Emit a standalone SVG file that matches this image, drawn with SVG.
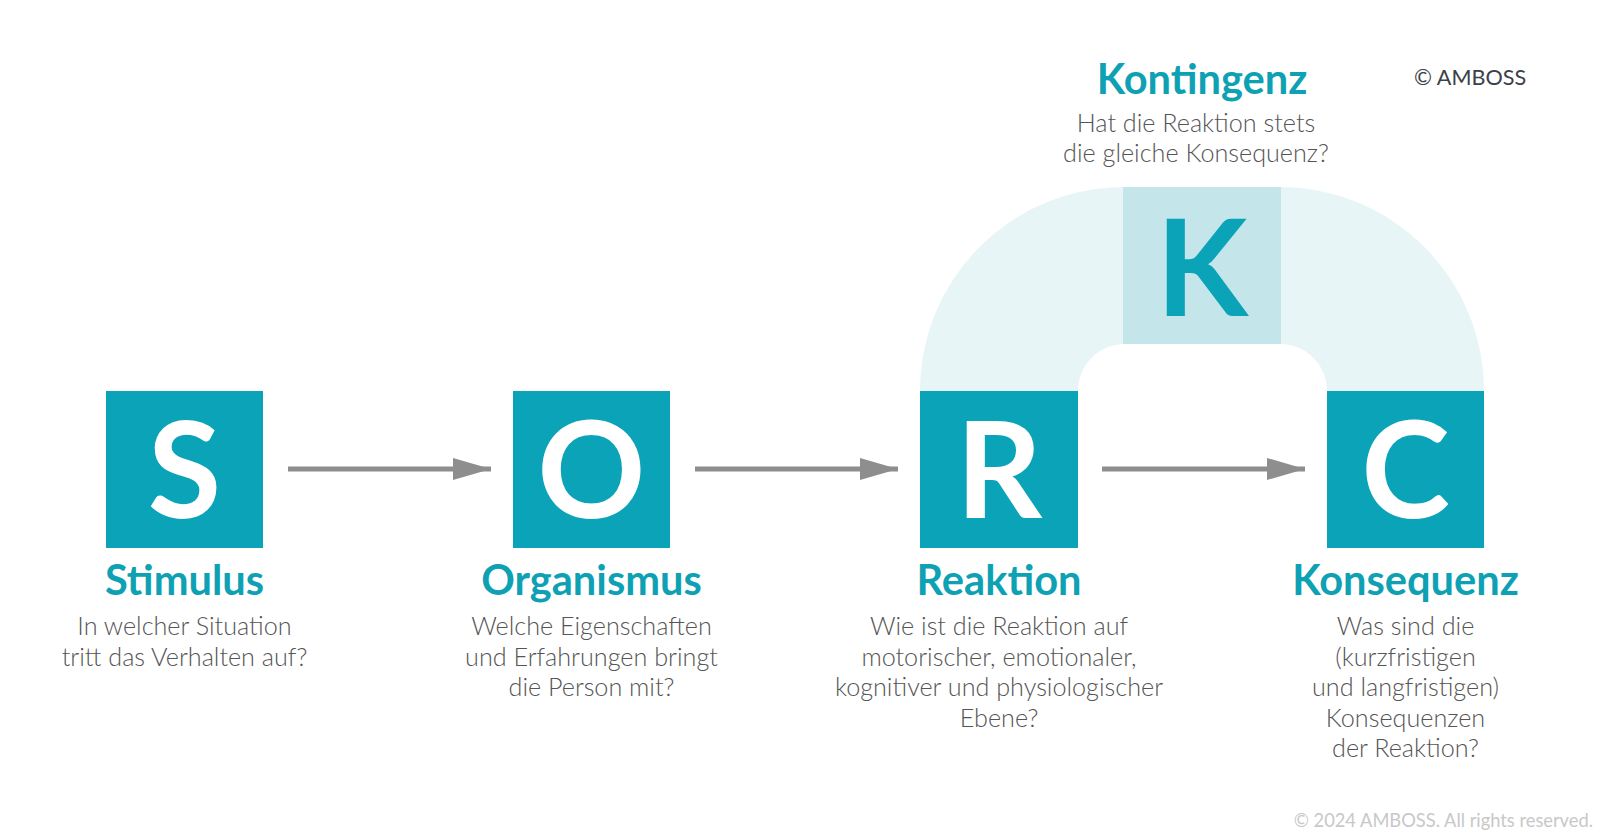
<svg xmlns="http://www.w3.org/2000/svg" width="1600" height="833" viewBox="0 0 1600 833">
<style>
.box{fill:#0aa3b8}
.letter{font-family:Lato,"Noto Sans",sans-serif;font-weight:700;font-size:134px;fill:#fff;text-anchor:middle}
.title{font-family:Lato,"Noto Sans",sans-serif;font-weight:700;font-size:41.6px;fill:#0ea1b4;text-anchor:middle}
.body{font-family:Lato,"Noto Sans",sans-serif;font-weight:300;font-size:25.2px;fill:#555;text-anchor:middle}
.conn{stroke:#8e8e8e;stroke-width:5;fill:none}
.copy{font-family:Lato,"Noto Sans",sans-serif;font-weight:400;font-size:21.6px;fill:#3a4149}
.foot{font-family:Lato,"Noto Sans",sans-serif;font-weight:400;font-size:18.3px;fill:#c8c8c8;text-anchor:end}
</style>
<defs>
<marker id="ah" markerUnits="userSpaceOnUse" markerWidth="40" markerHeight="22" refX="38" refY="11" orient="auto">
<path d="M0,0 L38,11 L0,22 Z" fill="#8e8e8e"/>
</marker>
</defs>
<rect width="1600" height="833" fill="#fff"/>

<g id="kontingenz">
<path d="M920,391 A204,204 0 0 1 1124,187 L1280,187 A204,204 0 0 1 1484,391 Z" fill="#e8f5f7"/>
<rect x="1123" y="187" width="158" height="157" fill="#c4e6ea"/>
<path d="M1078,391 A47,47 0 0 1 1125,344 L1280,344 A47,47 0 0 1 1327,391 Z" fill="#fff"/>
<text class="letter" x="1202" y="316" style="fill:#0aa3b8">K</text>
<text class="title" x="1202" y="94">Kontingenz</text>
<text class="body" x="1196" y="132">Hat die Reaktion stets</text>
<text class="body" x="1196" y="162">die gleiche Konsequenz?</text>
</g>

<g id="connectors">
<line class="conn" x1="288" y1="469" x2="491" y2="469" marker-end="url(#ah)"/>
<line class="conn" x1="695" y1="469" x2="898" y2="469" marker-end="url(#ah)"/>
<line class="conn" x1="1102" y1="469" x2="1305" y2="469" marker-end="url(#ah)"/>
</g>

<g id="stimulus">
<rect class="box" x="106" y="391" width="157" height="157"/>
<text class="letter" x="184.5" y="518">S</text>
<text class="title" x="184.5" y="595">Stimulus</text>
<text class="body" x="184.5" y="635">In welcher Situation</text>
<text class="body" x="184.5" y="665.5">tritt das Verhalten auf?</text>
</g>

<g id="organismus">
<rect class="box" x="513" y="391" width="157" height="157"/>
<text class="letter" x="591.5" y="518">O</text>
<text class="title" x="591.5" y="595">Organismus</text>
<text class="body" x="591.5" y="635">Welche Eigenschaften</text>
<text class="body" x="591.5" y="665.5">und Erfahrungen bringt</text>
<text class="body" x="591.5" y="696">die Person mit?</text>
</g>

<g id="reaktion">
<rect class="box" x="920" y="391" width="158" height="157"/>
<text class="letter" x="999" y="518">R</text>
<text class="title" x="999" y="595">Reaktion</text>
<text class="body" x="999" y="635">Wie ist die Reaktion auf</text>
<text class="body" x="999" y="665.5">motorischer, emotionaler,</text>
<text class="body" x="999" y="696">kognitiver und physiologischer</text>
<text class="body" x="999" y="726.5">Ebene?</text>
</g>

<g id="konsequenz">
<rect class="box" x="1327" y="391" width="157" height="157"/>
<text class="letter" x="1405.5" y="518">C</text>
<text class="title" x="1405.5" y="595">Konsequenz</text>
<text class="body" x="1405.5" y="635">Was sind die</text>
<text class="body" x="1405.5" y="665.5">(kurzfristigen</text>
<text class="body" x="1405.5" y="696">und langfristigen)</text>
<text class="body" x="1405.5" y="726.5">Konsequenzen</text>
<text class="body" x="1405.5" y="757">der Reaktion?</text>
</g>

<text class="copy" x="1414" y="85">© AMBOSS</text>
<text class="foot" x="1593" y="827">© 2024 AMBOSS. All rights reserved.</text>
</svg>
